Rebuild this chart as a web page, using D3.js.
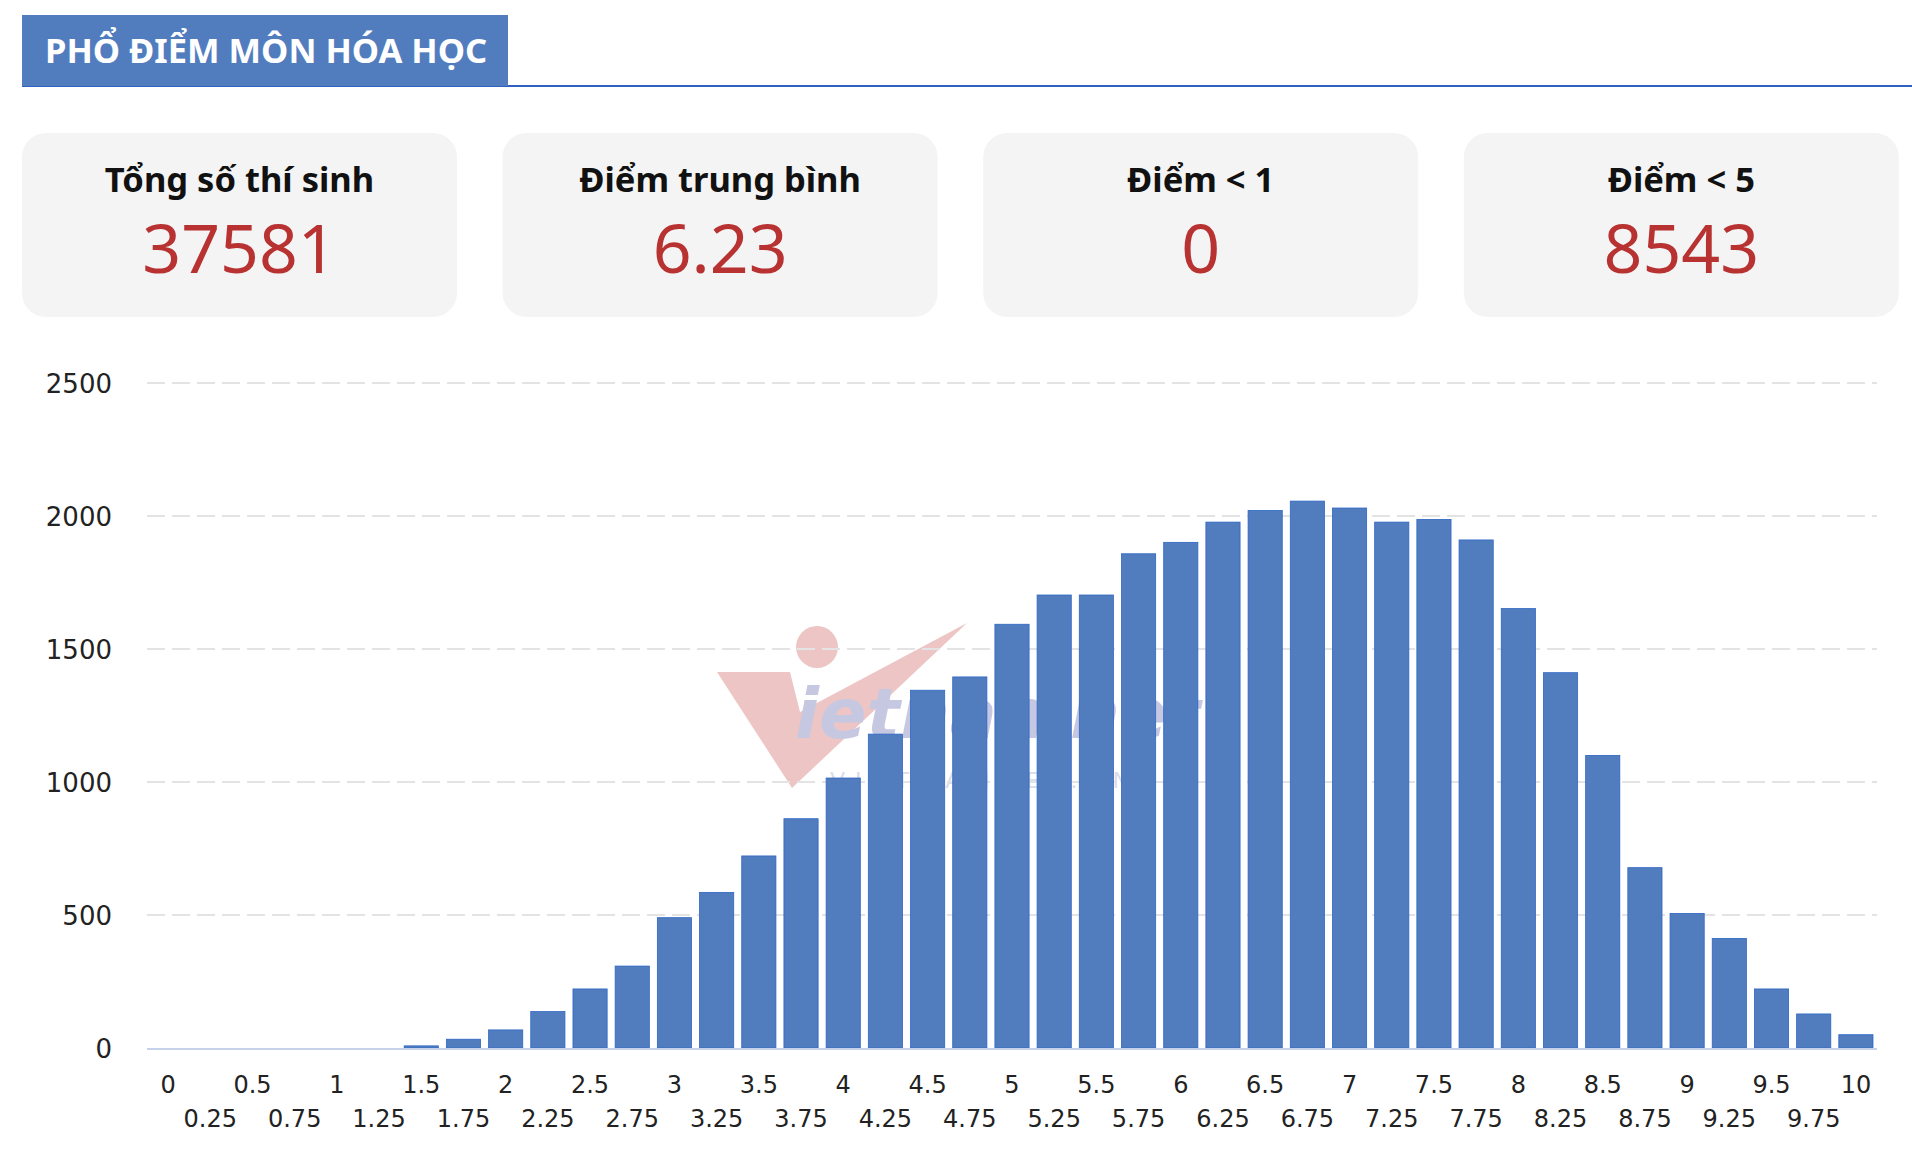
<!DOCTYPE html>
<html lang="vi">
<head>
<meta charset="UTF-8">
<title>Phổ điểm môn Hóa học</title>
<script src="https://d3js.org/d3.v7.min.js"></script>
<style>
  body { margin: 0; background: #fff; }
  svg { display: block; }
</style>
</head>
<body>
<svg id="chart"></svg>
<script>
    // --- data ---
    const title = "PHỔ ĐIỂM MÔN HÓA HỌC";
    const statLabels = ["Tổng số thí sinh", "Điểm trung bình", "Điểm < 1", "Điểm < 5"];
    const statValues = ["37581", "6.23", "0", "8543"];

    const scores = ["0", "0.25", "0.5", "0.75", "1", "1.25", "1.5", "1.75", "2", "2.25",
        "2.5", "2.75", "3", "3.25", "3.5", "3.75", "4", "4.25", "4.5", "4.75",
        "5", "5.25", "5.5", "5.75", "6", "6.25", "6.5", "6.75", "7", "7.25",
        "7.5", "7.75", "8", "8.25", "8.5", "8.75", "9", "9.25", "9.5", "9.75", "10"];
    const counts = [0, 0, 0, 0, 0, 0, 8, 33, 68, 137,
        222, 308, 490, 585, 722, 862, 1015, 1180, 1345, 1395,
        1593, 1703, 1703, 1858, 1901, 1977, 2021, 2056, 2030, 1977,
        1987, 1910, 1652, 1411, 1100, 678, 506, 412, 222, 128, 50];
    const yTicks = [0, 500, 1000, 1500, 2000, 2500];

    const W = 1912, H = 1167;
    const blue = "#517dbf";

    const svg = d3.select("#chart").attr("width", W).attr("height", H);

    // header tab + rule
    svg.append("line")
        .attr("x1", 22).attr("x2", W).attr("y1", 86).attr("y2", 86)
        .attr("stroke", "#2f62c0").attr("stroke-width", 2);
    svg.append("rect")
        .attr("x", 22).attr("y", 15).attr("width", 486).attr("height", 71)
        .attr("fill", blue);
    svg.append("text")
        .attr("x", 45).attr("y", 63)
        .attr("font-family", "'Noto Sans', sans-serif")
        .attr("font-weight", 700).attr("font-size", 34.5)
        .attr("fill", "#fff")
        .text(title);

    // stat cards
    const cardW = 435, cardGap = 45.6;
    const cards = svg.selectAll(".card")
        .data(statLabels.map((l, i) => ({label: l, value: statValues[i]})))
        .join("g")
        .attr("class", "card")
        .attr("transform", (d, i) => `translate(${22 + i * (cardW + cardGap)},133)`);
    cards.append("rect")
        .attr("width", cardW).attr("height", 184)
        .attr("rx", 24).attr("fill", "#f4f4f4");
    cards.append("text")
        .attr("x", cardW / 2).attr("y", 59)
        .attr("text-anchor", "middle")
        .attr("font-family", "'Noto Sans', sans-serif")
        .attr("font-weight", 700).attr("font-size", 34.5)
        .attr("fill", "#111")
        .text(d => d.label);
    cards.append("text")
        .attr("x", cardW / 2).attr("y", 140)
        .attr("text-anchor", "middle")
        .attr("font-family", "'Noto Sans', sans-serif")
        .attr("font-size", 68)
        .attr("fill", "#b83232")
        .text(d => d.value);

    // chart scales
    const x = d3.scaleBand()
        .domain(scores)
        .range([147, 1877])
        .paddingInner(0.19)
        .paddingOuter(0.095);
    const y = d3.scaleLinear()
        .domain([0, 2500])
        .range([1048, 383]);

    // faint watermark behind the bars
    const wm = svg.append("g").attr("opacity", 0.5);
    wm.append("polygon")
        .attr("points", "717,672 790,672 800,712 967,623 792,788")
        .attr("fill", "#dc8c8c");
    wm.append("circle").attr("cx", 817).attr("cy", 647).attr("r", 21).attr("fill", "#dc8c8c");
    wm.append("text")
        .attr("x", 795).attr("y", 738)
        .attr("font-family", "'DejaVu Sans', sans-serif")
        .attr("font-weight", 700).attr("font-style", "italic")
        .attr("font-size", 70)
        .attr("fill", "#8e93c4")
        .text("ietnamnet");
    wm.append("text")
        .attr("x", 830).attr("y", 788)
        .attr("font-family", "'DejaVu Sans', sans-serif")
        .attr("font-size", 22).attr("letter-spacing", 10)
        .attr("fill", "#b8bbd6")
        .text("VIETNAMNET.VN");

    // grid lines
    svg.append("g")
        .selectAll("line")
        .data(yTicks.filter(t => t > 0))
        .join("line")
        .attr("x1", 147).attr("x2", 1877)
        .attr("y1", d => y(d)).attr("y2", d => y(d))
        .attr("stroke", "#e3e3e3").attr("stroke-width", 2)
        .attr("stroke-dasharray", "18 7");

    // y axis
    const yAxis = svg.append("g")
        .attr("transform", "translate(112,0)")
        .call(d3.axisLeft(y).tickValues(yTicks).tickFormat(d3.format("d")).tickSize(0).tickPadding(0));
    yAxis.select(".domain").remove();
    yAxis.selectAll("text")
        .attr("font-family", "'DejaVu Sans', sans-serif")
        .attr("font-size", 26)
        .attr("fill", "#222")
        .attr("dy", "0.36em");

    // bars
    svg.append("g")
        .selectAll("rect")
        .data(counts)
        .join("rect")
        .attr("x", (d, i) => x(scores[i]))
        .attr("width", x.bandwidth())
        .attr("y", d => y(d))
        .attr("height", d => y(0) - y(d))
        .attr("fill", blue)
        .attr("stroke", "#2e66c4")
        .attr("stroke-width", 0.8);

    // baseline
    svg.append("line")
        .attr("x1", 147).attr("x2", 1877)
        .attr("y1", y(0) + 1).attr("y2", y(0) + 1)
        .attr("stroke", "#c5d2ea").attr("stroke-width", 2);

    // x axis, labels alternate between two rows
    const xAxis = svg.append("g")
        .attr("transform", `translate(0,${y(0)})`)
        .call(d3.axisBottom(x).tickSize(0).tickPadding(0));
    xAxis.select(".domain").remove();
    xAxis.selectAll("text")
        .attr("font-family", "'DejaVu Sans', sans-serif")
        .attr("font-size", 24)
        .attr("fill", "#222")
        .attr("dy", null)
        .attr("y", (d, i) => i % 2 === 0 ? 45 : 79);
</script>
</body>
</html>
